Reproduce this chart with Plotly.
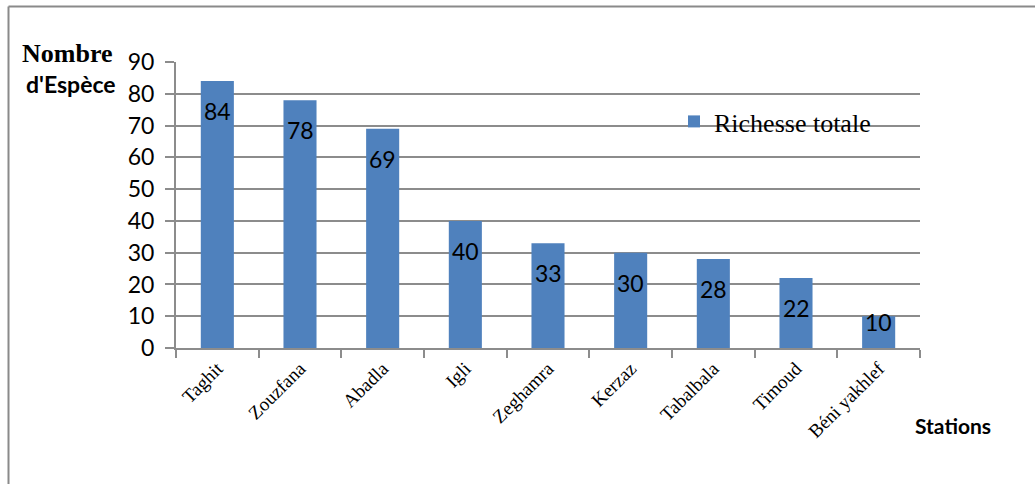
import plotly.graph_objects as go

stations = ["Taghit", "Zouzfana", "Abadla", "Igli", "Zeghamra", "Kerzaz",
            "Tabalbala", "Timoud", "Béni yakhlef"]
richesse = [84, 78, 69, 40, 33, 30, 28, 22, 10]
series_name = "Richesse totale"
y_ticks = [0, 10, 20, 30, 40, 50, 60, 70, 80, 90]

W, H = 1035, 484
ML, MR, MT, MB = 176, 115, 62, 136
plot_w = W - ML - MR
plot_h = H - MT - MB
px_per_unit = plot_h / 90

SANS = "Lato"
SERIF = "Liberation Serif"
GRID = "#8c8c8c"
BAR = "#4f81bd"

fig = go.Figure()
fig.add_trace(go.Bar(
    x=stations, y=richesse, name=series_name,
    marker=dict(color=BAR, line=dict(width=0)),
    width=0.4, showlegend=True,
))

# value labels sit just below each bar top
annotations = []
for s, v in zip(stations, richesse):
    shift = min(30, v * px_per_unit - 26)
    annotations.append(dict(
        x=s, y=v, xref="x", yref="y", text=str(v), showarrow=False,
        yshift=-shift, yanchor="middle",
        font=dict(family=SANS, size=23, color="black"),
    ))

def px_x(p):
    return (p - ML) / plot_w

def px_y(p):
    return (H - MB - p) / plot_h

annotations += [
    dict(x=px_x(68), y=px_y(53), xref="paper", yref="paper", text="<b>Nombre</b>",
         showarrow=False, xanchor="center", yanchor="middle",
         font=dict(family=SERIF, size=26, color="black")),
    dict(x=px_x(71), y=px_y(84), xref="paper", yref="paper", text="<b>d'Espèce</b>",
         showarrow=False, xanchor="center", yanchor="middle",
         font=dict(family=SANS, size=23, color="black")),
    dict(x=px_x(953), y=px_y(425), xref="paper", yref="paper", text="<b>Stations</b>",
         showarrow=False, xanchor="center", yanchor="middle",
         font=dict(family=SANS, size=21, color="black")),
]

# chart frame: top and left edges
shapes = [
    dict(type="line", xref="paper", yref="paper", x0=px_x(8.5), x1=px_x(W + 5),
         y0=px_y(6.5), y1=px_y(6.5), line=dict(color="#8a8a8a", width=2)),
    dict(type="line", xref="paper", yref="paper", x0=px_x(8.5), x1=px_x(8.5),
         y0=px_y(6.5), y1=px_y(H + 5), line=dict(color="#8a8a8a", width=2)),
]

fig.update_layout(
    width=W, height=H,
    margin=dict(l=ML, r=MR, t=MT, b=MB, autoexpand=False),
    paper_bgcolor="white", plot_bgcolor="white",
    bargap=0.6,
    annotations=annotations,
    shapes=shapes,
    legend=dict(x=px_x(674), y=px_y(98), xanchor="left", yanchor="top",
                bgcolor="rgba(0,0,0,0)", font=dict(family=SERIF, size=26, color="black"),
                itemwidth=30),
    xaxis=dict(
        showgrid=False, showline=True, linecolor=GRID, linewidth=2,
        ticks="outside", tickson="boundaries", ticklen=8, tickcolor=GRID, tickwidth=2,
        tickangle=-45, tickfont=dict(family=SERIF, size=19, color="black"),
        range=[-0.5, len(stations) - 0.5],
    ),
    yaxis=dict(
        range=[0, 90], tickvals=y_ticks, showgrid=True, gridcolor=GRID, gridwidth=2,
        showline=True, linecolor=GRID, linewidth=2, zeroline=False,
        ticks="outside", ticklen=9, tickcolor=GRID, tickwidth=2,
        ticklabelstandoff=6,
        tickfont=dict(family=SANS, size=23, color="black"),
    ),
)

fig.write_html("out.html")
